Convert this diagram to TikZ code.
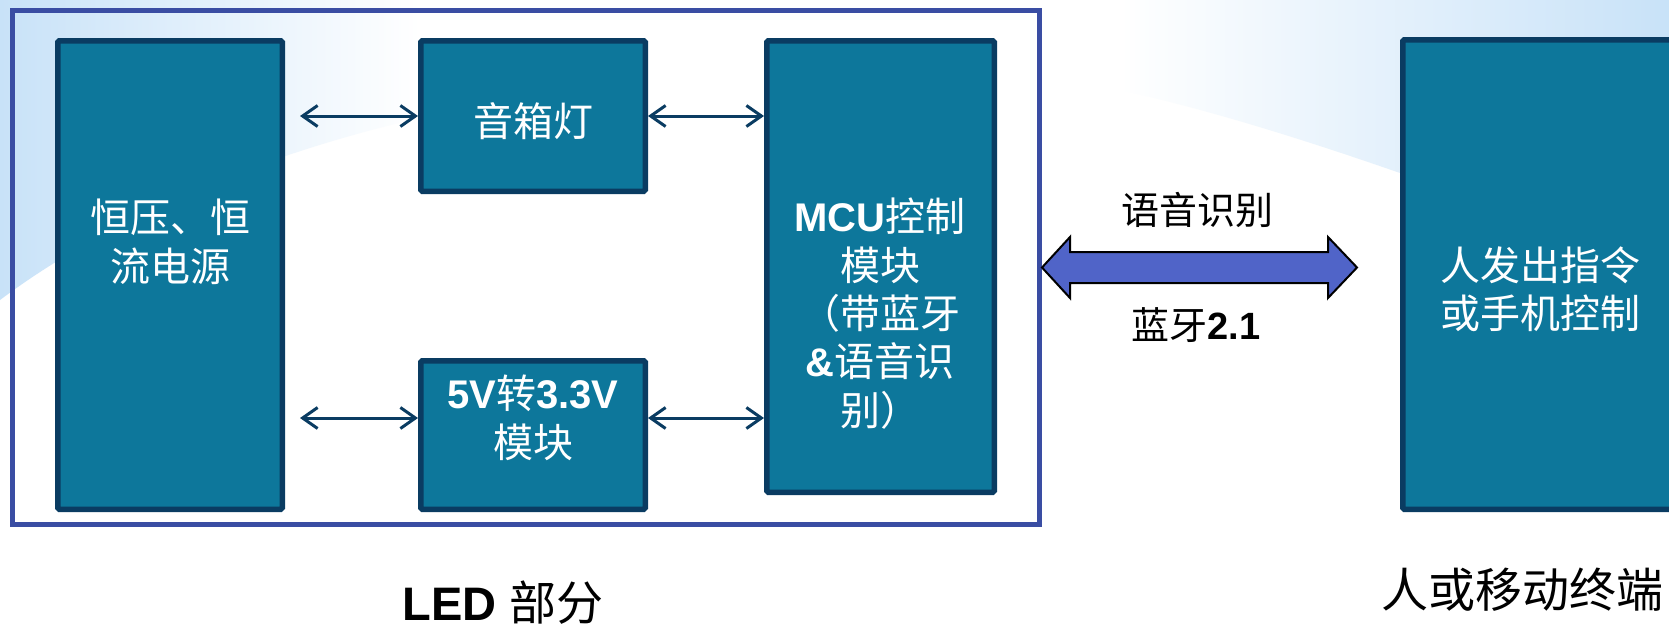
\documentclass[tikz,border=0pt]{standalone}
\usepackage{fontspec}
\setmainfont{Liberation Sans}
\newfontfamily\cjk{Noto Sans CJK SC}
\newcommand\zh[1]{{\cjk #1}}
\usetikzlibrary{arrows.meta,calc}
\definecolor{framec}{RGB}{58,77,163}
\definecolor{boxfill}{RGB}{13,119,155}
\definecolor{boxedge}{RGB}{10,60,98}
\definecolor{bigfill}{RGB}{80,100,200}
\definecolor{bgblue}{RGB}{200,226,248}
\tikzset{
  blk/.style={draw=boxedge, fill=boxfill, line width=5.5pt, inner sep=0pt, rounded corners=1.5pt},
  wtxt/.style={text=white, align=center, inner sep=0pt, font=\fontsize{40}{49}\selectfont},
  btxt/.style={text=black, align=center, inner sep=0pt},
  conn/.style={draw=boxedge, line width=3pt,
    {Straight Barb[length=15pt,width=21pt,line width=3pt]}-{Straight Barb[length=15pt,width=21pt,line width=3pt]}},
  framebox/.style={draw=framec, line width=5pt},
  bigarr/.style={fill=bigfill, draw=black, line width=2pt, line join=miter}
}
\begin{document}
\begin{tikzpicture}[x=1pt,y=-1pt]
\useasboundingbox (0,0) rectangle (1669,630);
\clip (0,0) rectangle (1669,630);
\fill[white] (0,0) rectangle (1669,630);
% background corners
\shade[left color=bgblue, right color=white] (0,0) -- (420,0) -- (420,118) .. controls (280,150) and (120,210) .. (0,300) -- cycle;
\shade[left color=white, right color=bgblue] (1120,0) -- (1669,0) -- (1669,270) .. controls (1500,210) and (1300,130) .. (1120,90) -- cycle;
% outer frame
\draw[framebox] (12,10.5) rectangle (1039.5,524.5);
% boxes
\node[blk, minimum width=224.5pt, minimum height=468.5pt] (b1) at (170,275) {};
\node[blk, minimum width=224.5pt, minimum height=150.5pt] (b2) at (533,116) {};
\node[blk, minimum width=224.5pt, minimum height=148.5pt] (b3) at (533,435) {};
\node[blk, minimum width=227.5pt, minimum height=451.5pt] (b4) at (880.5,266.5) {};
\node[blk, minimum width=274.5pt, minimum height=469.5pt] (b5) at (1540,274.5) {};
% box texts
\node[wtxt] (t1) at (170,241.5) {\zh{恒压、恒}\\\zh{流电源}};
\node[wtxt] (t2) at (533,121) {\zh{音箱灯}};
\node[wtxt] (t3) at (533,417.5) {\textbf{5V}\zh{转}\textbf{3.3V}\\\zh{模块}};
\node[wtxt, font=\fontsize{40}{48.3}\selectfont] (t4) at (880,313.5) {\textbf{MCU}\zh{控制}\\\zh{模块}\\\zh{（带蓝牙}\\\textbf{\&}\zh{语音识}\\\zh{别）}};
\node[wtxt, font=\fontsize{40}{48}\selectfont] (t5) at (1540,289) {\zh{人发出指令}\\\zh{或手机控制}};
% connectors
\coordinate (r3) at (0,418);
\draw[conn] ([xshift=15pt]b1.east |- b2.west) -- (b2.west);
\draw[conn] (b2.east) -- (b4.west |- b2.east);
\draw[conn] ([xshift=15pt]b1.east |- r3) -- (b3.west |- r3);
\draw[conn] (b3.east |- r3) -- (b4.west |- r3);
% big double arrow
\draw[bigarr] (1042,267.5) -- (1070,237) -- (1070,252) -- (1328,252) -- (1328,237) -- (1357,267.5)
  -- (1328,298) -- (1328,283) -- (1070,283) -- (1070,298) -- cycle;
\node[btxt, font=\fontsize{38}{44}\selectfont] (l1) at (1197,210) {\zh{语音识别}};
\node[btxt, font=\fontsize{38}{44}\selectfont] (l2) at (1196,325) {\zh{蓝牙}\textbf{2.1}};
% bottom labels
\node[btxt, font=\fontsize{47}{54}\selectfont] (l3) at (503,603) {\textbf{LED} \zh{部分}};
\node[btxt, font=\fontsize{47}{54}\selectfont] (l4) at (1522,590) {\zh{人或移动终端}};
\end{tikzpicture}
\end{document}
